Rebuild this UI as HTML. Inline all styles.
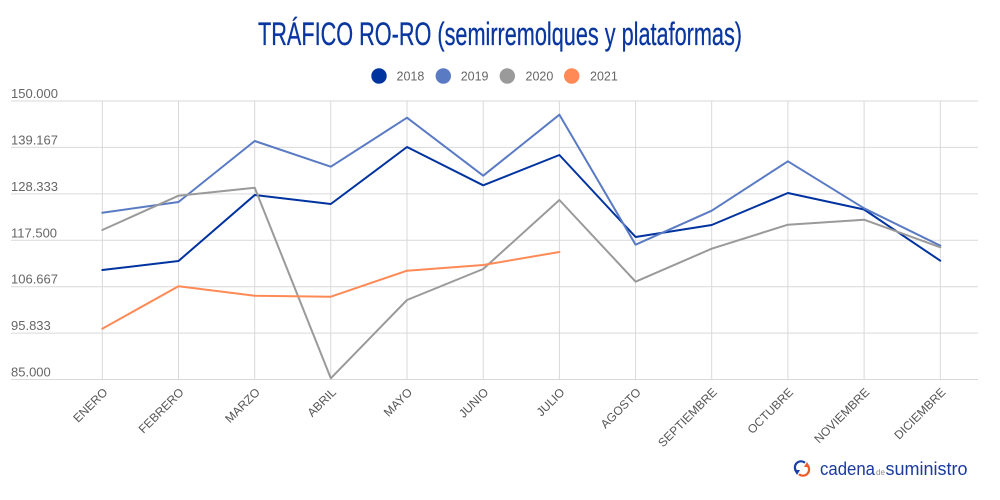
<!DOCTYPE html>
<html>
<head>
<meta charset="utf-8">
<style>
  html, body { margin: 0; padding: 0; background: #fff; }
  body { width: 1000px; height: 500px; overflow: hidden; }
  svg { display: block; }
  text { font-family: "Liberation Sans", sans-serif; }
</style>
</head>
<body>
<svg width="1000" height="500" viewBox="0 0 1000 500" xmlns="http://www.w3.org/2000/svg">
  <rect width="1000" height="500" fill="#ffffff"/>

  <!-- Title -->
  <text x="500" y="45" text-anchor="middle" font-size="32" fill="#0a36a0" stroke="#0a36a0" stroke-width="0.3" textLength="484" lengthAdjust="spacingAndGlyphs">TRÁFICO RO-RO (semirremolques y plataformas)</text>

  <!-- Legend -->
  <g font-size="12.5" fill="#666">
    <circle cx="379" cy="76" r="7.7" fill="#0033a0"/>
    <text x="396.5" y="80.5">2018</text>
    <circle cx="443.3" cy="76" r="7.7" fill="#5a7bc4"/>
    <text x="460.7" y="80.5">2019</text>
    <circle cx="507.3" cy="76" r="7.7" fill="#9a9a9a"/>
    <text x="525.5" y="80.5">2020</text>
    <circle cx="571.7" cy="76" r="7.7" fill="#ff8a56"/>
    <text x="590" y="80.5">2021</text>
  </g>

  <!-- Grid: horizontal -->
  <g stroke="#d9d9d9" stroke-width="1">
    <line x1="11" y1="101" x2="978" y2="101"/>
    <line x1="11" y1="147.4" x2="978" y2="147.4"/>
    <line x1="11" y1="193.9" x2="978" y2="193.9"/>
    <line x1="11" y1="240.3" x2="978" y2="240.3"/>
    <line x1="11" y1="286.7" x2="978" y2="286.7"/>
    <line x1="11" y1="333.1" x2="978" y2="333.1"/>
    <line x1="11" y1="379.5" x2="978" y2="379.5"/>
  </g>
  <!-- Grid: vertical -->
  <g stroke="#d9d9d9" stroke-width="1">
    <line x1="102.3" y1="101" x2="102.3" y2="379.5"/>
    <line x1="178.5" y1="101" x2="178.5" y2="379.5"/>
    <line x1="254.7" y1="101" x2="254.7" y2="379.5"/>
    <line x1="330.8" y1="101" x2="330.8" y2="379.5"/>
    <line x1="407.0" y1="101" x2="407.0" y2="379.5"/>
    <line x1="483.2" y1="101" x2="483.2" y2="379.5"/>
    <line x1="559.4" y1="101" x2="559.4" y2="379.5"/>
    <line x1="635.6" y1="101" x2="635.6" y2="379.5"/>
    <line x1="711.7" y1="101" x2="711.7" y2="379.5"/>
    <line x1="787.9" y1="101" x2="787.9" y2="379.5"/>
    <line x1="864.1" y1="101" x2="864.1" y2="379.5"/>
    <line x1="940.3" y1="101" x2="940.3" y2="379.5"/>
  </g>

  <!-- Y axis labels -->
  <g font-size="13" fill="#666">
    <text x="11" y="98">150.000</text>
    <text x="11" y="144.4">139.167</text>
    <text x="11" y="190.9">128.333</text>
    <text x="11" y="237.3">117.500</text>
    <text x="11" y="283.7">106.667</text>
    <text x="11" y="330.1">95.833</text>
    <text x="11" y="376.5">85.000</text>
  </g>

  <!-- X axis labels -->
  <g font-size="12" fill="#555" text-anchor="end">
    <text transform="translate(108.3,393) rotate(-45)">ENERO</text>
    <text transform="translate(184.5,393) rotate(-45)">FEBRERO</text>
    <text transform="translate(260.7,393) rotate(-45)">MARZO</text>
    <text transform="translate(336.8,393) rotate(-45)">ABRIL</text>
    <text transform="translate(413.0,393) rotate(-45)">MAYO</text>
    <text transform="translate(489.2,393) rotate(-45)">JUNIO</text>
    <text transform="translate(565.4,393) rotate(-45)">JULIO</text>
    <text transform="translate(641.6,393) rotate(-45)">AGOSTO</text>
    <text transform="translate(717.7,393) rotate(-45)">SEPTIEMBRE</text>
    <text transform="translate(793.9,393) rotate(-45)">OCTUBRE</text>
    <text transform="translate(870.1,393) rotate(-45)">NOVIEMBRE</text>
    <text transform="translate(946.3,393) rotate(-45)">DICIEMBRE</text>
  </g>

  <!-- Series -->
  <g fill="none" stroke-width="2" stroke-linejoin="round" stroke-linecap="round">
    <!-- 2018 -->
    <polyline stroke="#0033a0" points="102.3,270 178.5,261 254.7,195 330.8,204 407.0,147 483.2,185.3 559.4,155 635.6,237 711.7,225 787.9,193 864.1,209.5 940.3,260.7"/>
    <!-- 2019 -->
    <polyline stroke="#5a7bc4" points="102.3,212.7 178.5,202 254.7,141 330.8,166.7 407.0,117.7 483.2,175.7 559.4,114.7 635.6,244.7 711.7,210.7 787.9,161.3 864.1,208.3 940.3,245.7"/>
    <!-- 2020 -->
    <polyline stroke="#9a9a9a" points="102.3,230 178.5,195.7 254.7,187.7 330.8,378.3 407.0,300 483.2,269 559.4,200 635.6,281.7 711.7,248.7 787.9,224.7 864.1,219.7 940.3,247.3"/>
    <!-- 2021 -->
    <polyline stroke="#ff8a56" points="102.3,328.7 178.5,286.3 254.7,295.7 330.8,296.7 407.0,270.7 483.2,265 559.4,252"/>
  </g>

  <!-- Logo -->
  <g>
    <path d="M 797 472 A 6 6 0 0 1 805 462.8" fill="none" stroke="#1a3fa8" stroke-width="2.2"/>
    <polygon points="794,470 800,470 797,475" fill="#1a3fa8"/>
    <path d="M 807 465 A 6 6 0 0 1 799 474.2" fill="none" stroke="#f05a28" stroke-width="2.2"/>
    <polygon points="804,467 810,467 807,462" fill="#f05a28"/>
    <text x="820" y="475" font-size="18" fill="#1a3a9c" textLength="55" lengthAdjust="spacingAndGlyphs">cadena</text>
    <text x="876" y="475" font-size="8" fill="#8a8a8a" textLength="9" lengthAdjust="spacingAndGlyphs">de</text>
    <text x="885.5" y="475" font-size="18" fill="#1a3a9c" textLength="82" lengthAdjust="spacingAndGlyphs">suministro</text>
  </g>
</svg>
</body>
</html>
